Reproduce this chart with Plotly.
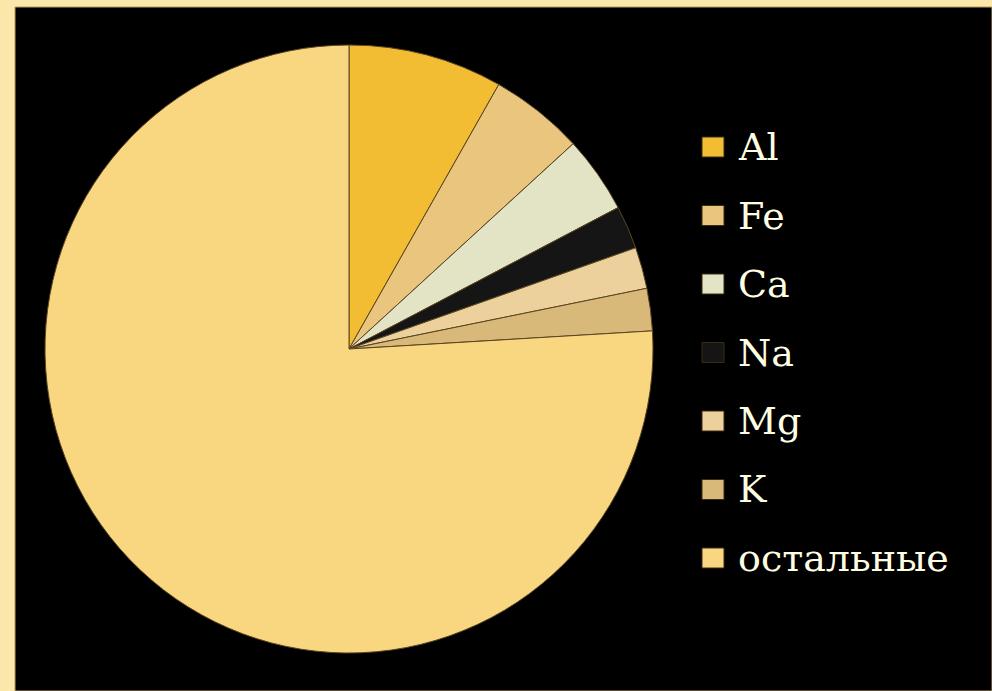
import plotly.graph_objects as go

labels = ["Al", "Fe", "Ca", "Na", "Mg", "K", "остальные"]
values = [8.2, 5.0, 4.1, 2.3, 2.2, 2.25, 75.95]
colors = ["#F3BD33", "#E9C57D", "#E3E3C6", "#151515", "#EDD19C", "#D9B979", "#F9D680"]

W, H = 992, 691

fig = go.Figure()
fig.add_trace(go.Pie(
    labels=labels,
    values=values,
    sort=False,
    direction="clockwise",
    rotation=0,
    textinfo="none",
    hoverinfo="label+percent",
    marker=dict(colors=colors, line=dict(color="#5a4520", width=1)),
    domain=dict(x=[45 / W, 653 / W], y=[(H - 653) / H, (H - 45) / H]),
    showlegend=False,
))

shapes = [dict(type="rect", xref="paper", yref="paper", layer="below",
               x0=15 / W, x1=1.0, y0=0, y1=(H - 7) / H,
               fillcolor="#000000", line=dict(color="#B8A060", width=1))]
annotations = []
top_y = 147
step = 68.5
for i, (lab, col) in enumerate(zip(labels, colors)):
    yc = top_y + i * step
    shapes.append(dict(type="rect", xref="paper", yref="paper",
                       x0=702 / W, x1=724 / W,
                       y0=(H - (yc + 10)) / H, y1=(H - (yc - 10)) / H,
                       fillcolor=col, line=dict(color="#3a2c10", width=1)))
    annotations.append(dict(xref="paper", yref="paper", x=736 / W, y=(H - yc) / H,
                            text=lab, showarrow=False, xanchor="left", yanchor="middle",
                            font=dict(family="DejaVu Serif",
                                      size=38, color="#FFFDE2")))

fig.update_layout(
    width=W, height=H,
    margin=dict(l=0, r=0, t=0, b=0),
    paper_bgcolor="#FCE7AA",
    plot_bgcolor="#000000",
    shapes=shapes,
    annotations=annotations,
)

fig.write_html("out.html",
               config={"displayModeBar": False},
               post_script="document.body.style.margin='0';document.body.style.overflow='hidden';document.body.style.background='#FCE7AA';")
